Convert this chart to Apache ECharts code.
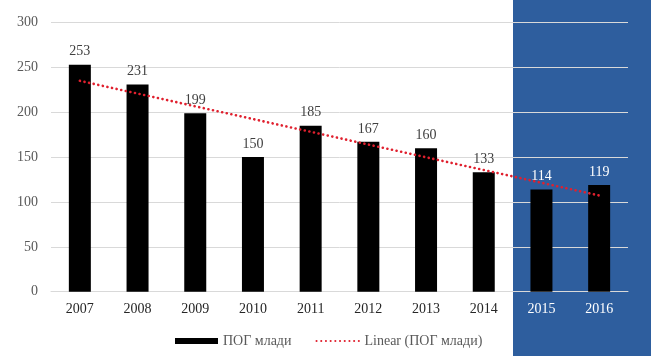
<!DOCTYPE html>
<html>
<head>
<meta charset="utf-8">
<script src="https://cdn.jsdelivr.net/npm/echarts@6/dist/echarts.min.js"></script>
<style>html,body{margin:0;padding:0;background:#fff;}#c{width:651px;height:356px;}</style>
</head>
<body>
<div id="c"></div>
<script>
const categories = ['2007','2008','2009','2010','2011','2012','2013','2014','2015','2016'];
const values = [253, 231, 199, 150, 185, 167, 160, 133, 114, 119];
const yTicks = [0, 50, 100, 150, 200, 250, 300];
const forecastCats = ['2015','2016'];
const seriesName = 'ПОГ млади';
const trendName = 'Linear (ПОГ млади)';

// least-squares linear trend (as in the original spreadsheet's trendline)
const n = values.length;
const mx = (n - 1) / 2;
const my = values.reduce((a, b) => a + b, 0) / n;
let sxy = 0, sxx = 0;
values.forEach((v, i) => { sxy += (i - mx) * (v - my); sxx += (i - mx) * (i - mx); });
const slope = sxy / sxx;
const trend = values.map((v, i) => +(my + slope * (i - mx)).toFixed(2));

const font = '"Liberation Serif", "Times New Roman", serif';
const chart = echarts.init(document.getElementById('c'), null, {renderer: 'canvas'});
chart.setOption({
  animation: false,
  backgroundColor: '#ffffff',
  textStyle: {fontFamily: font},
  graphic: [{
    type: 'rect', left: 513, top: 0, z: -10, silent: true,
    shape: {width: 138, height: 356},
    style: {fill: '#2e5e9e'}
  }],
  grid: {left: 51, right: 23, top: 22.5, bottom: 64.3, containLabel: false},
  legend: {
    bottom: 3, left: 170,
    itemWidth: 43, itemHeight: 6, itemGap: 24,
    textStyle: {fontFamily: font, fontSize: 14, color: '#595959'},
    data: [
      {name: seriesName, icon: 'rect'},
      {name: trendName, itemStyle: {opacity: 0}}
    ]
  },
  xAxis: {
    type: 'category', data: categories,
    axisLine: {show: true, lineStyle: {color: '#d9d9d9', width: 1}},
    axisTick: {show: false},
    axisLabel: {
      fontFamily: font, fontSize: 14, margin: 11,
      color: (v) => forecastCats.includes(v) ? '#ffffff' : '#262626'
    }
  },
  yAxis: {
    type: 'value', min: yTicks[0], max: yTicks[yTicks.length - 1], interval: 50,
    axisLine: {show: false}, axisTick: {show: false},
    splitLine: {lineStyle: {color: '#d9d9d9', width: 1}},
    axisLabel: {fontFamily: font, fontSize: 14, color: '#595959', margin: 13}
  },
  series: [{
    name: seriesName, type: 'bar', barWidth: 22,
    itemStyle: {color: '#000000'},
    label: {show: true, position: 'top', distance: 6, fontFamily: font, fontSize: 14, color: '#404040'},
    data: values.map((v, i) => forecastCats.includes(categories[i])
      ? {value: v, label: {color: '#ffffff'}} : v)
  }, {
    name: trendName, type: 'line', data: trend,
    symbol: 'none', showSymbol: false, z: 5,
    itemStyle: {color: '#e0202e'},
    lineStyle: {color: '#e0202e', type: [0.1, 4.6], width: 2.6, cap: 'round'}
  }]
});
</script>
</body>
</html>
